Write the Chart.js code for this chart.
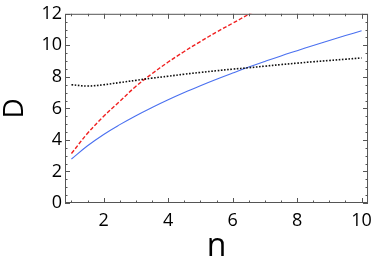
<!DOCTYPE html>
<html><head><meta charset="utf-8">
<script src="https://cdn.jsdelivr.net/npm/chart.js@4"></script>
<style>html,body{margin:0;padding:0;background:#fff}#c{display:block}</style>
</head><body>
<canvas id="c" width="379" height="264"></canvas>
<script>
const nValues = [1,1.5,2,2.5,3,3.5,4,4.5,5,5.5,6,6.5,7,7.5,8,8.5,9,9.5,10];
const blueD  = [2.79,3.63,4.35,4.97,5.54,6.06,6.55,7.01,7.44,7.85,8.24,8.62,8.98,9.33,9.66,9.99,10.31,10.62,10.92];
const redD   = [3.14,4.42,5.50,6.45,7.40,8.20,8.94,9.61,10.24,10.84,11.40,11.97,12.52];
const blackD = [7.50,7.42,7.50,7.64,7.78,7.92,8.04,8.17,8.28,8.39,8.49,8.58,8.68,8.78,8.87,8.96,9.04,9.12,9.20];
const xTickLabels = [2,4,6,8,10];
const yTickLabels = [0,2,4,6,8,10,12];

const pts = arr => arr.map((v,i)=>({x:nValues[i], y:v}));
const FONT = "'Open Sans', 'DejaVu Sans', sans-serif";
const FRAME = '#555';

const framePlugin = {
  id:'frame',
  afterDatasetsDraw(chart){
    const {ctx, chartArea:a, scales:{x,y}} = chart;
    ctx.save();
    ctx.strokeStyle = FRAME; ctx.lineWidth = 1;
    ctx.strokeRect(a.left+0.5, a.top+0.5, a.right-a.left-1, a.bottom-a.top-1);
    ctx.beginPath();
    x.ticks.forEach(t=>{
      const v=t.value; if (Math.abs(v*2-Math.round(v*2))>1e-6) return;
      const px = Math.round(x.getPixelForValue(v))+0.5;
      const L = (Math.abs(v/2-Math.round(v/2))<1e-6)?5:2.5;
      ctx.moveTo(px,a.bottom); ctx.lineTo(px,a.bottom-L);
      ctx.moveTo(px,a.top); ctx.lineTo(px,a.top+L);
    });
    y.ticks.forEach(t=>{
      const v=t.value; if (Math.abs(v*2-Math.round(v*2))>1e-6) return;
      const py = Math.round(y.getPixelForValue(v))+0.5;
      const L = (Math.abs(v/2-Math.round(v/2))<1e-6)?5:2.5;
      ctx.moveTo(a.left,py); ctx.lineTo(a.left+L,py);
      ctx.moveTo(a.right,py); ctx.lineTo(a.right-L,py);
    });
    ctx.stroke();
    ctx.restore();
  }
};

new Chart(document.getElementById('c'), {
  type:'line',
  data:{datasets:[
    {data:pts(blackD), borderColor:'#111', borderWidth:1.6, borderDash:[1.6,1.6], pointRadius:0, tension:0.4, fill:false},
    {data:pts(redD), borderColor:'#f02020', borderWidth:1.4, borderDash:[4,2], pointRadius:0, tension:0.4, fill:false},
    {data:pts(blueD), borderColor:'#4a70f0', borderWidth:1.1, pointRadius:0, tension:0.4, fill:false}
  ]},
  options:{
    responsive:false, animation:false, devicePixelRatio:1,
    layout:{padding:{left:0,top:11,right:6,bottom:0}},
    plugins:{legend:{display:false}, tooltip:{enabled:false}},
    scales:{
      x:{type:'linear', min:0.8, max:10.2,
        afterFit(s){ s.height = 61; },
        grid:{display:false, drawTicks:false}, border:{display:false},
        ticks:{stepSize:0.5, autoSkip:false, maxRotation:0, includeBounds:false, padding:7, color:'#000',
          font:{family:FONT, size:18},
          callback:(v)=> xTickLabels.includes(v)? String(v):''},
        title:{display:true, text:'n', color:'#000', font:{family:FONT, size:32, lineHeight:1}, padding:{top:0,bottom:1}}
      },
      y:{type:'linear', min:0, max:12,
        afterFit(s){ s.width = 65; },
        grid:{display:false, drawTicks:false}, border:{display:false},
        ticks:{stepSize:0.5, autoSkip:false, includeBounds:false, padding:3, color:'#000',
          font:{family:FONT, size:18},
          callback:(v)=> yTickLabels.includes(v)? String(v):''},
        title:{display:true, text:'D', color:'#000', font:{family:FONT, size:28, lineHeight:1}, padding:{top:1,bottom:0}}
      }
    }
  },
  plugins:[framePlugin]
});
</script>
</body></html>
